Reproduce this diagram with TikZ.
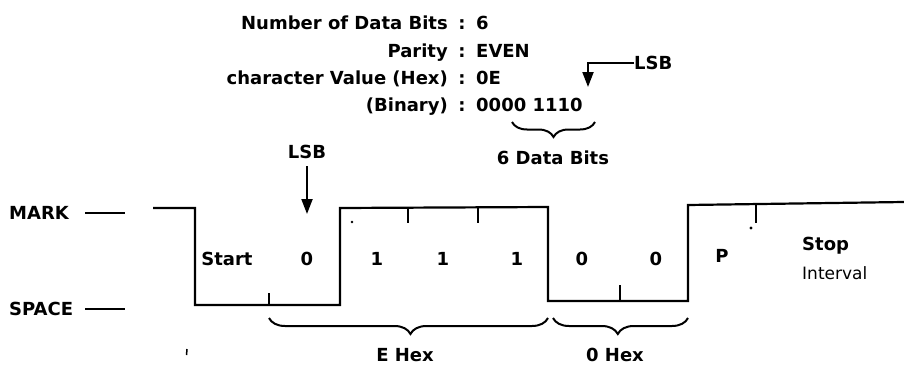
\documentclass[tikz,border=0pt]{standalone}
\usepackage{fontspec}
\setmainfont{DejaVu Sans}
\usetikzlibrary{decorations.pathreplacing,arrows.meta}
\begin{document}
\begin{tikzpicture}[x=1pt,y=-1pt,
  txt/.style={inner sep=0pt,font=\fontsize{18}{21}\selectfont\bfseries},
  wave/.style={line width=2.2pt,line join=miter},
  tick/.style={line width=1.8pt},
  lvl/.style={line width=1.6pt},
  bracedn/.style={line width=2pt,decorate,decoration={brace,mirror,amplitude=15pt}},
  lsbarrow/.style={line width=2pt,-{Triangle[length=15pt,width=11pt]}}]
\useasboundingbox (0,0) rectangle (904,369);
% header table
\node[txt,anchor=base east] (l1) at (448,30) {Number of Data Bits};
\node[txt,anchor=base east] (l2) at (448,57) {Parity};
\node[txt,anchor=base east] (l3) at (448,84) {character Value (Hex)};
\node[txt,anchor=base east] (l4) at (448,111) {(Binary)};
\node[txt,anchor=base] (c1) at (462,30) {:};
\node[txt,anchor=base] (c2) at (462,57) {:};
\node[txt,anchor=base] (c3) at (462,84) {:};
\node[txt,anchor=base] (c4) at (462,111) {:};
\node[txt,anchor=base west] (v1) at (476,30) {6};
\node[txt,anchor=base west] (v2) at (476,57) {EVEN};
\node[txt,anchor=base west] (v3) at (476,84) {0E};
\node[txt,anchor=base west] (v4) at (476,111) {0000 1110};
% top LSB pointer
\node[txt,anchor=west] (lsbt) at (634,63) {LSB};
\coordinate (lsbcorner) at (588,63);
\coordinate (lsbtip) at (588,87);
\draw[lsbarrow] (lsbt.west) -- (lsbcorner) -- (lsbtip);
% 6 data bits brace
\coordinate (b6a) at (512,122);
\coordinate (b6b) at (595,122);
\draw[bracedn] (b6a) -- (b6b);
\node[txt] (sixbits) at (553,158) {6 Data Bits};
% lower LSB
\node[txt] (lsb) at (307,152) {LSB};
\coordinate (lsbdown) at (307,214);
\draw[lsbarrow] (lsb.south) ++(0,7) -- (lsbdown);
% MARK / SPACE
\node[txt,anchor=west] (mark) at (9,213) {MARK};
\node[txt,anchor=west] (space) at (9,309) {SPACE};
\coordinate (m1) at (85,213); \coordinate (m2) at (125,213);
\coordinate (s1) at (85,309); \coordinate (s2) at (125,309);
\draw[lvl] (m1) -- (m2);
\draw[lvl] (s1) -- (s2);
% waveform
\draw[wave] (153,208) -- (195,208) -- (195,305) -- (340,305) -- (340,208)
  -- (548,207) -- (548,301) -- (688,301) -- (688,205) -- (904,202);
% ticks
\draw[tick] (269,293) -- (269,305);
\draw[tick] (408,208) -- (408,223);
\draw[tick] (478,207) -- (478,223);
\draw[tick] (620,285) -- (620,301);
\draw[tick] (756,205) -- (756,223);
\fill (352,222) circle (1.3pt);
\fill (751,228) circle (1.6pt);
\draw[line width=1.5pt] (187,349) -- (186.5,355);
% bit labels
\node[txt] (start) at (227,259) {Start};
\node[txt] (b0) at (307,259) {0};
\node[txt] (b1) at (377,259) {1};
\node[txt] (b2) at (443,259) {1};
\node[txt] (b3) at (517,259) {1};
\node[txt] (b4) at (582,259) {0};
\node[txt] (b5) at (656,259) {0};
\node[txt] (par) at (722,256) {P};
\node[txt,anchor=west] (stop) at (802,246) {Stop};
\node[txt,anchor=west,font=\fontsize{17}{20}\selectfont] (intv) at (802,273) {Interval};
% bottom braces
\coordinate (ea) at (269,318); \coordinate (eb) at (548,318);
\coordinate (oa) at (553,318); \coordinate (ob) at (688,318);
\draw[bracedn,decoration={brace,mirror,amplitude=16pt,aspect=0.507}] (ea) -- (eb);
\draw[bracedn,decoration={brace,mirror,amplitude=16pt,aspect=0.48}] (oa) -- (ob);
\node[txt] (ehex) at (405,355) {E Hex};
\node[txt] (ohex) at (615,355) {0 Hex};
\end{tikzpicture}
\end{document}
